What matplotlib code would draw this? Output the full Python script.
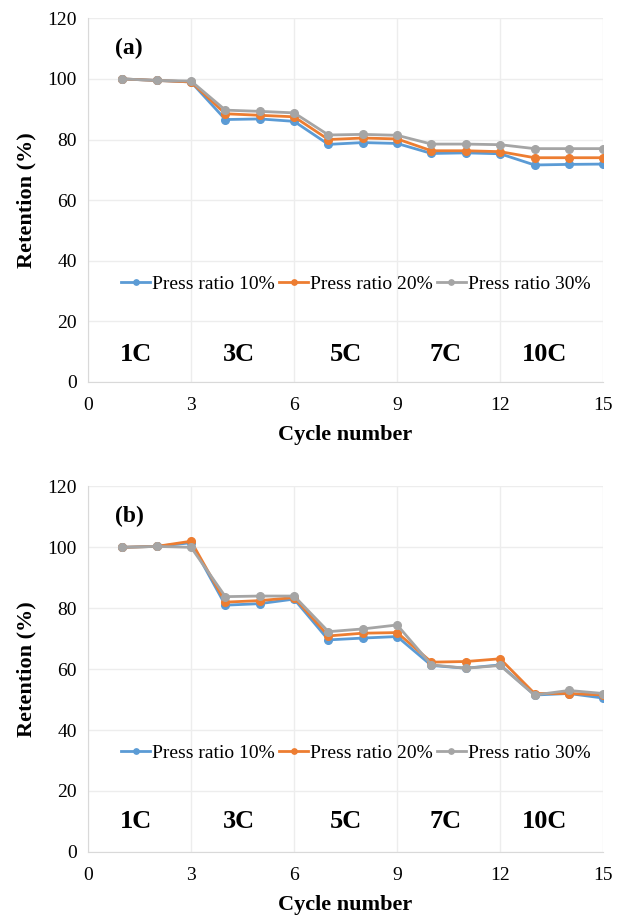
import matplotlib
matplotlib.use("Agg")
import matplotlib.pyplot as plt

# Cycle index and rate labels
cycles = list(range(1, 16))
rate_labels = ["1C", "3C", "5C", "7C", "10C"]
rate_x = [1.4, 4.4, 7.5, 10.4, 13.3]
series_names = ["Press ratio 10%", "Press ratio 20%", "Press ratio 30%"]

# Panel (a) retention (%)
a_10 = [100, 99.5, 99, 86.6, 86.8, 86.0, 78.4, 79.0, 78.7, 75.4, 75.6, 75.3, 71.6, 71.8, 71.9]
a_20 = [100, 99.5, 99, 88.5, 88.0, 87.5, 80.0, 80.5, 80.2, 76.3, 76.3, 76.0, 74.0, 74.0, 74.0]
a_30 = [100, 99.5, 99.3, 89.7, 89.3, 88.8, 81.5, 81.7, 81.4, 78.5, 78.5, 78.3, 77.0, 77.0, 77.0]

# Panel (b) retention (%)
b_10 = [100, 100.3, 101.5, 81.0, 81.5, 83.0, 69.6, 70.2, 70.7, 61.2, 60.3, 61.4, 51.5, 52.0, 50.5]
b_20 = [100, 100.3, 102.0, 82.0, 82.5, 83.5, 70.9, 71.8, 72.0, 62.3, 62.5, 63.4, 52.0, 52.0, 51.5]
b_30 = [100, 100.3, 100.0, 83.8, 84.0, 84.0, 72.3, 73.2, 74.5, 61.4, 60.3, 61.2, 51.5, 53.0, 52.0]

colors = ["#5B9BD5", "#ED7D31", "#A5A5A5"]

plt.rcParams["font.family"] = ["Liberation Serif", "DejaVu Serif"]

fig = plt.figure(figsize=(6.26, 9.16), dpi=100)
ax_a = fig.add_axes([0.1406, 0.583, 0.823, 0.397])
ax_b = fig.add_axes([0.1406, 0.070, 0.823, 0.399])


def draw_panel(ax, data, tag, rate_y):
    for vals, name, col in zip(data, series_names, colors):
        ax.plot(cycles, vals, color=col, lw=2, marker="o", ms=5.5, label=name)
    ax.set_xlim(0, 15)
    ax.set_ylim(0, 120)
    ax.set_xticks(range(0, 16, 3))
    ax.set_yticks(range(0, 121, 20))
    ax.tick_params(length=0, labelsize=14)
    ax.tick_params(axis="x", pad=11)
    ax.tick_params(axis="y", pad=8)
    ax.grid(True, color="#ededed", lw=1)
    ax.set_axisbelow(True)
    for side in ["top", "right"]:
        ax.spines[side].set_visible(False)
    for side in ["left", "bottom"]:
        ax.spines[side].set_color("#d9d9d9")
    ax.set_xlabel("Cycle number", fontsize=16, fontweight="bold", labelpad=8)
    ax.set_ylabel("Retention (%)", fontsize=16, fontweight="bold", labelpad=8)
    ax.text(0.8, 110, tag, fontsize=17, fontweight="bold", va="center")
    for x, lab in zip(rate_x, rate_labels):
        ax.text(x, rate_y, lab, fontsize=19, fontweight="bold", ha="center", va="center")
    ax.legend(loc="center", bbox_to_anchor=(0.52, 0.27), ncol=3, frameon=False,
              fontsize=14, handlelength=1.5, handletextpad=0.1, columnspacing=0.2,
              markerscale=0.7)


draw_panel(ax_a, [a_10, a_20, a_30], "(a)", 9)
draw_panel(ax_b, [b_10, b_20, b_30], "(b)", 10)

fig.savefig("out.png", dpi=100)
